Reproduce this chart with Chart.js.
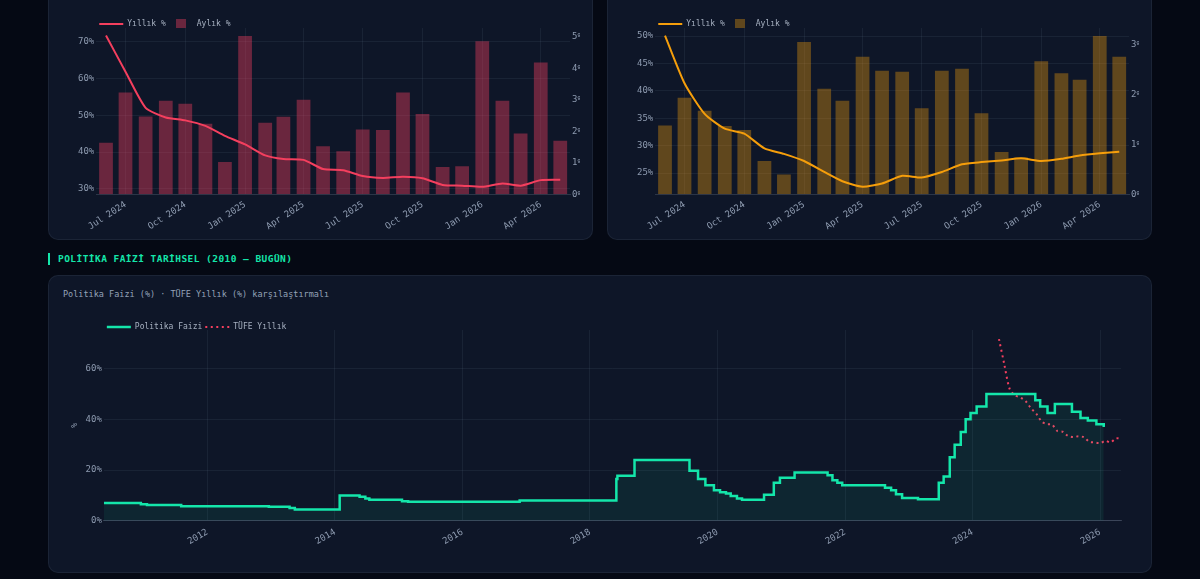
<!DOCTYPE html>
<html lang="tr">
<head>
<meta charset="utf-8">
<title>Enflasyon ve Politika Faizi</title>
<script src="https://cdn.jsdelivr.net/npm/chart.js@4.4.1/dist/chart.umd.min.js"></script>
<style>
  html, body { margin: 0; padding: 0; }
  body {
    width: 1200px; height: 579px; overflow: hidden; position: relative;
    background: #050914; font-family: 'DejaVu Sans Mono', monospace;
  }
  .card {
    position: absolute; box-sizing: border-box;
    background: #0e1628; border: 1px solid rgba(148, 163, 184, 0.10); border-radius: 10px;
  }
  .box { position: absolute; }
  .section {
    position: absolute; left: 48px; top: 253px; height: 12px; line-height: 12px;
    border-left: 2px solid #14e6aa; padding-left: 8px;
    color: #14e6aa; font-weight: bold; font-size: 9.5px; letter-spacing: 0.45px;
  }
  .title { position: absolute; left: 14px; top: 13px; color: #94a3b8; font-size: 8.5px; }
</style>
</head>
<body>

<div class="card" style="left:48px; top:-40px; width:545px; height:280px;"></div>
<div class="card" style="left:607px; top:-40px; width:545px; height:280px;"></div>
<div class="box" style="left:64px; top:17px; width:516px; height:220px;"><canvas id="cpi-chart"></canvas></div>
<div class="box" style="left:623px; top:17px; width:516px; height:220px;"><canvas id="ppi-chart"></canvas></div>

<div class="section">POLİTİKA FAİZİ TARİHSEL (2010 — BUGÜN)</div>

<div class="card" style="left:48px; top:275px; width:1104px; height:298px;">
  <div class="title">Politika Faizi (%) · TÜFE Yıllık (%) karşılaştırmalı</div>
</div>
<div class="box" style="left:62px; top:320px; width:1075px; height:233px;"><canvas id="policy-chart"></canvas></div>

<script>
// monthly series, Jun 2024 .. May 2026
var months = ['2024-06-01', '2024-07-01', '2024-08-01', '2024-09-01', '2024-10-01', '2024-11-01',
    '2024-12-01', '2025-01-01', '2025-02-01', '2025-03-01', '2025-04-01', '2025-05-01',
    '2025-06-01', '2025-07-01', '2025-08-01', '2025-09-01', '2025-10-01', '2025-11-01',
    '2025-12-01', '2026-01-01', '2026-02-01', '2026-03-01', '2026-04-01', '2026-05-01'];
var cpiYoy = [71.6, 61.8, 52.0, 49.4, 48.6, 47.1, 44.4, 42.1, 39.1, 38.1, 37.9, 35.4,
    35.1, 33.5, 33.0, 33.3, 32.9, 31.1, 30.9, 30.6, 31.5, 30.9, 32.4, 32.5];
var cpiMom = [1.64, 3.23, 2.47, 2.97, 2.88, 2.24, 1.03, 5.03, 2.27, 2.46, 3.00, 1.53,
    1.37, 2.06, 2.04, 3.23, 2.55, 0.87, 0.89, 4.86, 2.97, 1.93, 4.19, 1.70];
var ppiYoy = [50.1, 41.4, 35.8, 33.1, 32.2, 29.5, 28.5, 27.2, 25.2, 23.5, 22.5, 23.1,
    24.5, 24.2, 25.2, 26.6, 27.0, 27.3, 27.7, 27.2, 27.6, 28.2, 28.6, 28.9];
var ppiMom = [1.38, 1.94, 1.68, 1.37, 1.29, 0.67, 0.40, 3.06, 2.12, 1.88, 2.76, 2.48,
    2.46, 1.73, 2.48, 2.52, 1.63, 0.85, 0.74, 2.67, 2.43, 2.30, 3.18, 2.76];

var quarterTicks = ['2024-07-01', '2024-10-01', '2025-01-01', '2025-04-01',
    '2025-07-01', '2025-10-01', '2026-01-01', '2026-04-01'];
var quarterLabels = ['Jul 2024', 'Oct 2024', 'Jan 2025', 'Apr 2025',
    'Jul 2025', 'Oct 2025', 'Jan 2026', 'Apr 2026'];

// policy rate decisions (date of change, new rate)
var policyDates = ['2010-05-18', '2010-12-16', '2011-01-20', '2011-08-04', '2012-12-18', '2013-04-16',
    '2013-05-16', '2014-01-28', '2014-05-22', '2014-06-24', '2014-07-17', '2015-01-20',
    '2015-02-24', '2016-11-24', '2018-06-01', '2018-06-07', '2018-09-13', '2019-07-25',
    '2019-09-12', '2019-10-24', '2019-12-12', '2020-01-16', '2020-02-19', '2020-03-17',
    '2020-04-22', '2020-05-21', '2020-09-24', '2020-11-19', '2020-12-24', '2021-03-18',
    '2021-09-23', '2021-10-21', '2021-11-18', '2021-12-16', '2022-08-18', '2022-09-22',
    '2022-10-20', '2022-11-24', '2023-02-23', '2023-06-22', '2023-07-20', '2023-08-24',
    '2023-09-21', '2023-10-26', '2023-11-23', '2023-12-21', '2024-01-25', '2024-03-21',
    '2024-12-26', '2025-01-23', '2025-03-06', '2025-04-17', '2025-07-24', '2025-09-11',
    '2025-10-23', '2025-12-11', '2026-01-22'];
var policyRate = [7.00, 6.50, 6.25, 5.75, 5.50, 5.00,
    4.50, 10.00, 9.50, 8.75, 8.25, 7.75,
    7.50, 8.00, 16.50, 17.75, 24.00, 19.75,
    16.50, 14.00, 12.00, 11.25, 10.75, 9.75,
    8.75, 8.25, 10.25, 15.00, 17.00, 19.00,
    18.00, 16.00, 15.00, 14.00, 13.00, 12.00,
    10.50, 9.00, 8.50, 15.00, 17.50, 25.00,
    30.00, 35.00, 40.00, 42.50, 45.00, 50.00,
    47.50, 45.00, 42.50, 46.00, 43.00, 40.50,
    39.50, 38.00, 37.00];

var yearTicks = ['2012-01-01', '2014-01-01', '2016-01-01', '2018-01-01',
    '2020-01-01', '2022-01-01', '2024-01-01', '2026-01-01'];
var yearLabels = ['2012', '2014', '2016', '2018', '2020', '2022', '2024', '2026'];

var DAY = 86400000;
var gridColor = 'rgba(148, 163, 184, 0.09)';
var tickColor = '#8e9bb0';
var legendColor = '#a7b1c1';

Chart.defaults.font.family = "'DejaVu Sans Mono', monospace";
Chart.defaults.font.size = 9;
Chart.defaults.color = tickColor;

function ts(d) {
    return Date.parse(d);
}

function points(dates, values) {
    return dates.map(function (d, i) { return {x: ts(d), y: values[i]}; });
}

function pct(v) {
    return v + '%';
}

// round ticks between the scale's min and max, no bound ticks
function roundTicks(step) {
    return function (scale) {
        var list = [];
        for (var v = Math.ceil(scale.min / step - 1e-9) * step; v <= scale.max + 1e-9; v += step) {
            list.push({value: Math.round(v * 1000) / 1000});
        }
        scale.ticks = list;
    };
}

function fixedTicks(dates, labels) {
    var values = dates.map(ts);
    return {
        build: function (scale) {
            scale.ticks = values.map(function (v) { return {value: v}; });
        },
        label: function (v) {
            var i = values.indexOf(v);
            return i >= 0 ? labels[i] : '';
        }
    };
}

function legendSquare(color) {
    var c = document.createElement('canvas');
    c.width = 10;
    c.height = 10;
    var g = c.getContext('2d');
    g.fillStyle = color;
    g.fillRect(0, 0, 10, 10);
    return c;
}

// default labels, but keep the dataset line width and dash on line items
function legendItems(chart) {
    var items = Chart.defaults.plugins.legend.labels.generateLabels(chart);
    items.forEach(function (it) {
        var ds = chart.data.datasets[it.datasetIndex];
        if (ds.pointStyle === 'line') {
            it.lineWidth = ds.borderWidth;
            it.strokeStyle = ds.borderColor;
            it.lineDash = ds.borderDash || [];
        }
    });
    return items;
}

function legendOptions(maxHeight) {
    return {
        position: 'top',
        align: 'start',
        fullSize: false,
        maxHeight: maxHeight,
        labels: {
            color: legendColor, font: {size: 8}, padding: 3,
            usePointStyle: true, pointStyleWidth: 24, generateLabels: legendItems
        }
    };
}

function monthlyChart(id, yoy, mom, lineColor, barColor, yoyStep) {
    var lo = Math.min.apply(null, yoy);
    var hi = Math.max.apply(null, yoy);
    var grace = (hi - lo) * 0.05;
    var momHi = Math.max.apply(null, mom);
    var q = fixedTicks(quarterTicks, quarterLabels);

    return new Chart(document.getElementById(id), {
        type: 'bar',
        data: {
            datasets: [{
                type: 'line',
                label: 'Yıllık %',
                data: points(months, yoy),
                yAxisID: 'y',
                borderColor: lineColor,
                borderWidth: 2,
                pointRadius: 0,
                pointStyle: 'line',
                tension: 0.2,
                order: 0
            }, {
                type: 'bar',
                label: 'Aylık %',
                data: points(months, mom),
                yAxisID: 'y1',
                backgroundColor: barColor,
                pointStyle: legendSquare(barColor),
                barPercentage: 0.9,
                categoryPercentage: 0.84,
                order: 1
            }]
        },
        options: {
            animation: false,
            responsive: true,
            maintainAspectRatio: false,
            layout: {padding: {left: 12, right: 0, top: 0, bottom: 0}},
            scales: {
                x: {
                    type: 'linear',
                    offset: false,
                    min: ts(months[0]) - 15 * DAY,
                    max: ts(months[months.length - 1]) + 15 * DAY,
                    afterBuildTicks: q.build,
                    grid: {color: gridColor, offset: false, drawTicks: false},
                    border: {color: 'rgba(148, 163, 184, 0.22)'},
                    ticks: {color: tickColor, padding: 5, autoSkip: false, minRotation: 33, maxRotation: 33, callback: q.label}
                },
                y: {
                    position: 'left',
                    min: lo - grace,
                    max: hi + grace,
                    afterBuildTicks: roundTicks(yoyStep),
                    grid: {color: gridColor, drawTicks: false},
                    border: {display: false},
                    ticks: {color: tickColor, padding: 2, callback: pct}
                },
                y1: {
                    position: 'right',
                    min: 0,
                    max: momHi * 1.05,
                    afterBuildTicks: roundTicks(1),
                    afterFit: function (scale) { scale.width = 10; },
                    grid: {display: false, drawTicks: false},
                    border: {display: false},
                    ticks: {color: tickColor, padding: 2, callback: pct}
                }
            },
            plugins: {
                legend: legendOptions(11),
                tooltip: {enabled: false}
            }
        }
    });
}

monthlyChart('cpi-chart', cpiYoy, cpiMom, '#f43f5e', 'rgba(244, 63, 94, 0.40)', 10);
monthlyChart('ppi-chart', ppiYoy, ppiMom, '#f59e0b', 'rgba(245, 158, 11, 0.36)', 5);

var yq = fixedTicks(yearTicks, yearLabels);
var policyMax = Math.max(Math.max.apply(null, policyRate), Math.max.apply(null, cpiYoy)) * 1.05;

new Chart(document.getElementById('policy-chart'), {
    type: 'line',
    data: {
        datasets: [{
            label: 'Politika Faizi',
            data: points(policyDates, policyRate),
            stepped: true,
            borderColor: '#14e6aa',
            borderWidth: 2.5,
            backgroundColor: 'rgba(20, 230, 170, 0.08)',
            fill: 'origin',
            pointRadius: 0,
            pointStyle: 'line'
        }, {
            label: 'TÜFE Yıllık',
            data: points(months, cpiYoy),
            borderColor: '#f43f5e',
            borderWidth: 2,
            borderDash: [2, 3.5],
            fill: false,
            pointRadius: 0,
            pointStyle: 'line',
            tension: 0.3
        }]
    },
    options: {
        animation: false,
        responsive: true,
        maintainAspectRatio: false,
        layout: {padding: {left: 4, right: 16, top: 0, bottom: 0}},
        scales: {
            x: {
                type: 'linear',
                min: ts(policyDates[0]),
                max: ts(months[months.length - 1]),
                afterBuildTicks: yq.build,
                grid: {color: gridColor, drawTicks: false},
                border: {color: 'rgba(148, 163, 184, 0.28)'},
                ticks: {color: tickColor, padding: 6, autoSkip: false, minRotation: 30, maxRotation: 30, callback: yq.label}
            },
            y: {
                min: 0,
                max: policyMax,
                afterBuildTicks: roundTicks(20),
                grid: {color: gridColor, drawTicks: false},
                border: {display: false},
                title: {display: true, text: '%', color: tickColor, font: {size: 8}},
                ticks: {color: tickColor, padding: 2, callback: pct}
            }
        },
        plugins: {
            legend: legendOptions(10),
            tooltip: {enabled: false}
        }
    }
});
</script>
</body>
</html>
